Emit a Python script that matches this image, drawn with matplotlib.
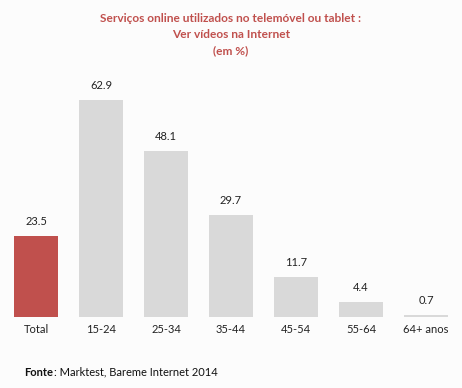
import matplotlib
matplotlib.use("Agg")
import matplotlib.pyplot as plt

categories = ["Total", "15-24", "25-34", "35-44", "45-54", "55-64", "64+ anos"]
values = [23.5, 62.9, 48.1, 29.7, 11.7, 4.4, 0.7]
title_lines = ["Serviços online utilizados no telemóvel ou tablet :",
               "Ver vídeos na Internet", "(em %)"]

RED = "#C0504D"
GREY = "#D9D9D9"
BG = "#FCFCFC"
FONT = "Lato"

fig = plt.figure(figsize=(4.62, 3.88), dpi=100)
fig.patch.set_facecolor(BG)
ax = fig.add_axes([3.5 / 462, 71 / 388, 455 / 462, 241.5 / 388])
ax.set_facecolor(BG)

colors = [RED] + [GREY] * (len(values) - 1)
x = range(len(categories))
ax.bar(x, values, width=0.69, color=colors, edgecolor="none")
for xi, v in zip(x, values):
    ax.text(xi, v + 2.6, f"{v:.1f}", ha="center", va="bottom",
            fontsize=8, family=FONT, color="#222222")

ax.set_xlim(-0.5, len(categories) - 0.5)
ax.set_ylim(0, 70)
ax.set_xticks(list(x))
ax.set_xticklabels(categories, fontsize=8, family=FONT, color="#222222")
ax.tick_params(axis="x", length=0, pad=5)
ax.set_yticks([])
for s in ax.spines.values():
    s.set_visible(False)

for line, y in zip(title_lines, [18, 35, 51]):
    fig.text(0.5, 1 - y / 388, line, ha="center", va="center",
             fontsize=8.6, fontweight="bold", family=FONT, color=RED)

# bold "Fonte" followed by regular text, placed right after it
fonte = fig.text(24 / 462, 1 - 372 / 388, "Fonte", fontsize=8, fontweight="bold",
                 family=FONT, color="#111111", va="center")
fig.canvas.draw()
bb = fonte.get_window_extent()
fig.text(bb.x1 / 462 + 0.5 / 462, 1 - 372 / 388, ": Marktest, Bareme Internet 2014",
         fontsize=8, family=FONT, color="#111111", va="center")

fig.savefig("out.png", dpi=100, facecolor=BG)
